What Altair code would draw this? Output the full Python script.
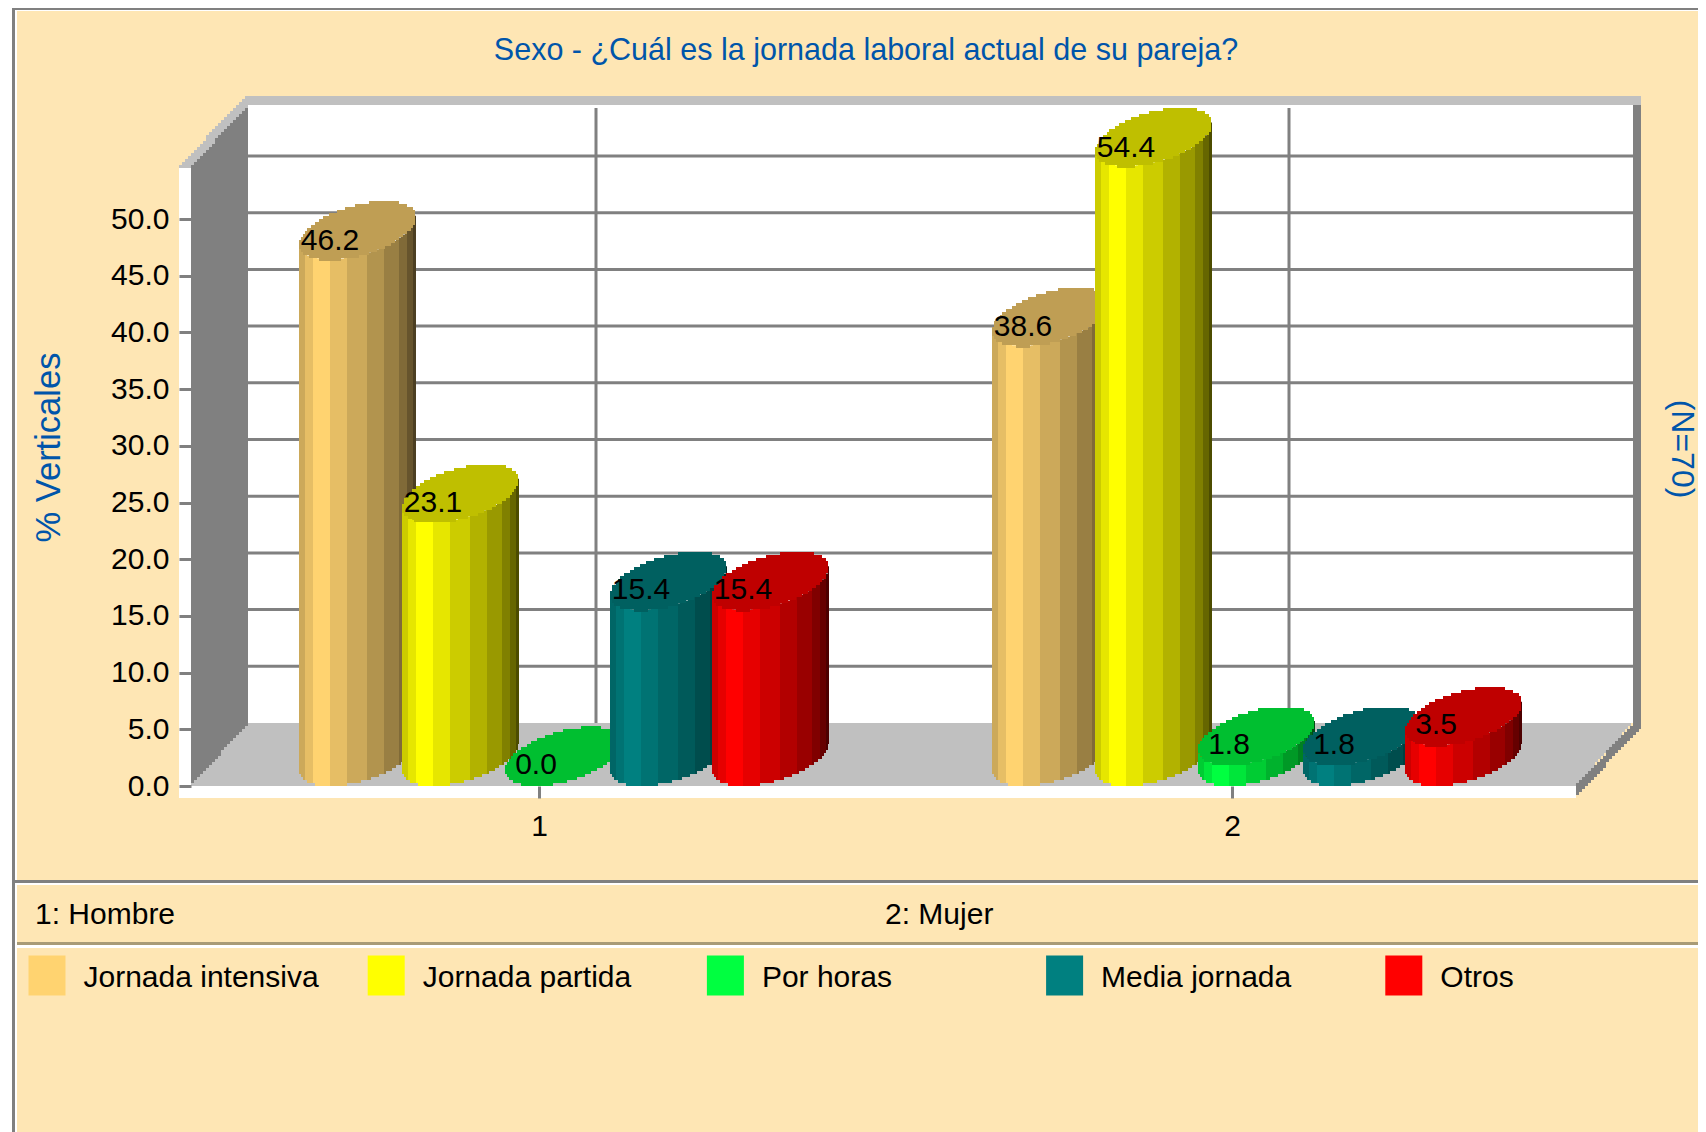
import numpy as np
import pandas as pd
import altair as alt

# ---------- chart values ----------
TITLE = "Sexo - ¿Cuál es la jornada laboral actual de su pareja?"
Y_TITLE = "% Verticales"
N_NOTE = "(N=70)"
GROUPS = [1, 2]
GROUP_NOTES = ["1: Hombre", "2: Mujer"]
SERIES = ["Jornada intensiva", "Jornada partida", "Por horas", "Media jornada", "Otros"]
INTENSIVA = [46.2, 38.6]
PARTIDA = [23.1, 54.4]
POR_HORAS = [0.0, 1.8]
MEDIA = [15.4, 1.8]
OTROS = [15.4, 3.5]
COLUMNS = [INTENSIVA, PARTIDA, POR_HORAS, MEDIA, OTROS]
COLORS = ["#FFD370", "#FFFF00", "#00FF40", "#008080", "#FF0000"]
Y_TICKS = [0, 5, 10, 15, 20, 25, 30, 35, 40, 45, 50]

# ---------- page geometry: linear relation between data and page ----------
W, H = 1690, 1124
RIGHT, BOTTOM = 8 + W, 8 + H
PX_PER_GROUP = 693.0
PX_PER_PCT = 11.34
CYL_PX_PER_PCT = 11.38
X1_PX, Y0_PX = 539.0, 786.0


def ux(px):
    return 1 + (px - X1_PX) / PX_PER_GROUP


def uy(py):
    return (Y0_PX - py) / PX_PER_PCT


x_scale = alt.Scale(domain=[ux(8), ux(RIGHT)], nice=False, zero=False)
y_scale = alt.Scale(domain=[uy(BOTTOM), uy(8)], nice=False, zero=False)

BLUE = "#0055AA"
FONT = "Liberation Sans"
GRAY = "#808080"
LIGHT = "#C0C0C0"
PEACH = "#FEE6B4"


def shade(hex_color, f):
    r, g, b = [int(hex_color[i:i + 2], 16) for i in (1, 3, 5)]
    return "#%02X%02X%02X" % (round(r * f), round(g * f), round(b * f))


def region(target, name, color, x0, x1, top, bot, step=None):
    """Filled region between two page-space edges given as knots."""
    sloped = len(top) > 1 or len(bot) > 1
    st = step or (3 if sloped else (x1 - x0))
    xs = list(np.arange(x0, x1, st)) + [x1]
    tx, ty = zip(*top)
    bx, by = zip(*bot)
    for i, x in enumerate(xs):
        mid = x + st / 2 if i < len(xs) - 1 else xs[-2] + st / 2
        yt = float(np.interp(mid, tx, ty))
        yb = float(np.interp(mid, bx, by))
        if sloped:
            yt = round(yt / 3) * 3
            yb = round(yb / 3) * 3
        target.append(dict(x=ux(float(x)), y=uy(yt), y2=uy(yb), piece=name, fill=color))


F = []
# panel, borders
region(F, "f01", PEACH, 17, RIGHT, [(0, 11)], [(0, BOTTOM)])
region(F, "f02", GRAY, 12, 15, [(0, 8)], [(0, BOTTOM)])
region(F, "f03", GRAY, 12, RIGHT, [(0, 8)], [(0, 10)])
region(F, "f04", GRAY, 15, RIGHT, [(0, 880)], [(0, 883)])
region(F, "f05", "#FFFFFF", 17, RIGHT, [(0, 883)], [(0, 885)])
region(F, "f06", "#A99B76", 17, RIGHT, [(0, 942)], [(0, 945)])
region(F, "f07", "#FFFFFF", 17, RIGHT, [(0, 945)], [(0, 948)])
# white base of the box
region(F, "f08", "#FFFFFF", 179, 191, [(0, 167)], [(0, 798)])
region(F, "f09", "#FFFFFF", 179, 1576, [(0, 786)], [(0, 798)])
# back wall
region(F, "f10", "#FFFFFF", 248, 1633, [(0, 105)], [(0, 723)])
# top edge
region(F, "f11", LIGHT, 179, 248, [(179, 167), (245, 96), (248, 96)],
       [(191, 167), (248, 105)])
region(F, "f12", LIGHT, 248, 1641, [(0, 96)], [(0, 105)])
frame_df = pd.DataFrame(F)

# floor and walls are drawn over the grid's lower ends
W2 = []
region(W2, "w1", LIGHT, 191, 1633, [(191, 786), (248, 723)], [(1576, 786), (1633, 723)])
region(W2, "w2", GRAY, 191, 248, [(191, 167), (248, 105)], [(191, 786), (248, 723)])
region(W2, "w3", GRAY, 1633, 1641, [(0, 105)], [(1633, 735), (1641, 728)])
region(W2, "w4", GRAY, 1576, 1633, [(1576, 786), (1633, 723)], [(1576, 798), (1633, 735)])
wall_df = pd.DataFrame(W2)

# back-plane grid: the depth of the box is 57 px across and 63 px up
DEPTH_PCT = 63 / PX_PER_PCT
hgrid = pd.DataFrame({"x": ux(248), "x2": ux(1633), "y": [v + DEPTH_PCT for v in Y_TICKS[1:]]})
vgrid = pd.DataFrame({"x": [g + 57 / PX_PER_GROUP for g in GROUPS], "y": uy(723), "y2": uy(108)})

# ---------- cylinders ----------
A, B, C = 51.5, 27.7, 29.5
R2 = A * A + B * B
R = R2 ** 0.5
BAR_OFFSETS = [0, 103, 206, 311, 413]
FIRST_BAR = -240.0
STRIP_EDGES = [0, 6, 14, 31, 48, 68, 85, 100, 108, 114, 117]
STRIP_SHADE = [0.8, 0.9, 1.0, 0.9, 0.8, 0.7, 0.6, 0.5, 0.4, 0.3]
CAP_SHADE = 0.75


def arc(dx, cy, upper):
    dx = max(-R, min(R, dx))
    root = A * (R2 - dx * dx) ** 0.5
    s = (dx * B + root) / R2 if upper else (dx * B - root) / R2
    return cy - C * s


def snap(v):
    return round(v / 3) * 3


cyl_rows, bar_rows = [], []
count = 0
for g_i, g in enumerate(GROUPS):
    for s_i, (name, col, base) in enumerate(zip(SERIES, COLUMNS, COLORS)):
        v = col[g_i]
        left = X1_PX + (g - 1) * PX_PER_GROUP + FIRST_BAR + BAR_OFFSETS[s_i]
        cx = left + 58.5
        top_y = Y0_PX - CYL_PX_PER_PCT * v
        cy_top = top_y - C
        cy_base = Y0_PX - C
        bar_rows.append(dict(x=ux(left + 31), y=v, series=name, label=f"{v:.1f}"))
        if v > 0:
            for e0, e1, f in zip(STRIP_EDGES[:-1], STRIP_EDGES[1:], STRIP_SHADE):
                count += 1
                pid = f"c{count:04d}"
                xs = list(range(e0, e1, 2)) + [e1]
                for j, ex in enumerate(xs):
                    mid = ex + 1 if j < len(xs) - 1 else xs[-2] + 1
                    dx = left + mid - cx
                    cyl_rows.append(dict(x=ux(left + ex), y=uy(arc(dx, cy_top, False) - 1),
                                         y2=uy(snap(arc(dx, cy_base, False))),
                                         piece=pid, fill=shade(base, f)))
        count += 1
        pid = f"c{count:04d}"
        xs = list(range(0, 117, 2)) + [117]
        for j, ex in enumerate(xs):
            mid = ex + 1 if j < len(xs) - 1 else xs[-2] + 1
            dx = left + mid - cx
            cyl_rows.append(dict(x=ux(left + ex), y=uy(snap(arc(dx, cy_top, True))),
                                 y2=uy(snap(arc(dx, cy_top, False))),
                                 piece=pid, fill=shade(base, CAP_SHADE)))
cyl_df = pd.DataFrame(cyl_rows)
bars = pd.DataFrame(bar_rows)

# ---------- shared encodings ----------
x_axis = alt.Axis(values=GROUPS, format="d", orient="bottom", offset=-(BOTTOM - Y0_PX), title=None,
                  domain=False, grid=False, tickSize=12, tickWidth=3, tickColor=GRAY, labelPadding=13,
                  labelFont=FONT, labelFontSize=30, labelColor="#000000", zindex=1, labelFlush=False,
                  labelOverlap=False)
y_axis = alt.Axis(values=Y_TICKS, format=".1f", orient="left", offset=-183, title=Y_TITLE,
                  domain=False, grid=False, tickSize=12, tickWidth=3, tickColor=GRAY, labelPadding=10,
                  labelFont=FONT, labelFontSize=30, labelColor="#000000", zindex=1, labelOverlap=False,
                  titleFont=FONT, titleFontSize=34.5, titleFontWeight="normal", titleColor=BLUE,
                  titleX=-132, titleY=439, titleAlign="center", titleBaseline="alphabetic", titleAngle=-90)
X = alt.X("x:Q", scale=x_scale, axis=x_axis)
Y = alt.Y("y:Q", scale=y_scale, axis=y_axis)


def fill_layer(df):
    return alt.Chart(df).mark_area(interpolate="step-after", orient="vertical").encode(
        x=X, y=Y, y2="y2:Q", detail="piece:N", color=alt.Color("fill:N", scale=None))


h_rule = alt.Chart(hgrid).mark_rule(color=GRAY, strokeWidth=3).encode(x=X, x2="x2:Q", y=Y)
v_rule = alt.Chart(vgrid).mark_rule(color=GRAY, strokeWidth=3).encode(x=X, y=Y, y2="y2:Q")

legend_layer = alt.Chart(bars).mark_square(size=0).encode(
    x=X, y=Y,
    color=alt.Color("series:N", scale=alt.Scale(domain=SERIES, range=COLORS), legend=alt.Legend(
        title=None, orient="none", legendX=20, legendY=951, columns=5, gridAlign="all",
        symbolType="M-0.974,-1.21H0.974V0.895H-0.974Z", symbolSize=1444, symbolOpacity=1,
        symbolStrokeWidth=0, padding=0,
        labelFont=FONT, labelFontSize=30, labelColor="#000000", labelOffset=17.5, labelLimit=500,
        columnPadding=48.2)))

value_text = alt.Chart(bars).mark_text(font=FONT, fontSize=30, color="#000000", align="center",
                                       baseline="alphabetic", dy=-12).encode(x=X, y=Y, text="label:N")

notes = pd.DataFrame({"x": [ux(35), ux(885)], "y": uy(924), "t": GROUP_NOTES})
notes_text = alt.Chart(notes).mark_text(font=FONT, fontSize=30, color="#000000", align="left",
                                        baseline="alphabetic").encode(x=X, y=Y, text="t:N")
n_df = pd.DataFrame({"x": [ux(1672)], "y": [uy(449)], "t": [N_NOTE]})
n_text = alt.Chart(n_df).mark_text(font=FONT, fontSize=32, color=BLUE, align="center",
                                   baseline="alphabetic", angle=90).encode(x=X, y=Y, text="t:N")

chart = alt.layer(
    fill_layer(frame_df), h_rule, v_rule, fill_layer(wall_df), fill_layer(cyl_df),
    legend_layer, value_text, notes_text, n_text,
).properties(
    width=W, height=H, padding=0, background="#FFFFFF",
    autosize=alt.AutoSizeParams(type="none"),
    title=alt.TitleParams(text=TITLE, anchor="middle", font=FONT, fontSize=30.5, fontWeight="normal",
                          color=BLUE, baseline="alphabetic", offset=0, dy=82, dx=13),
).configure_view(strokeWidth=0)

chart.save("out.html", embed_options={"renderer": "svg", "actions": False})
